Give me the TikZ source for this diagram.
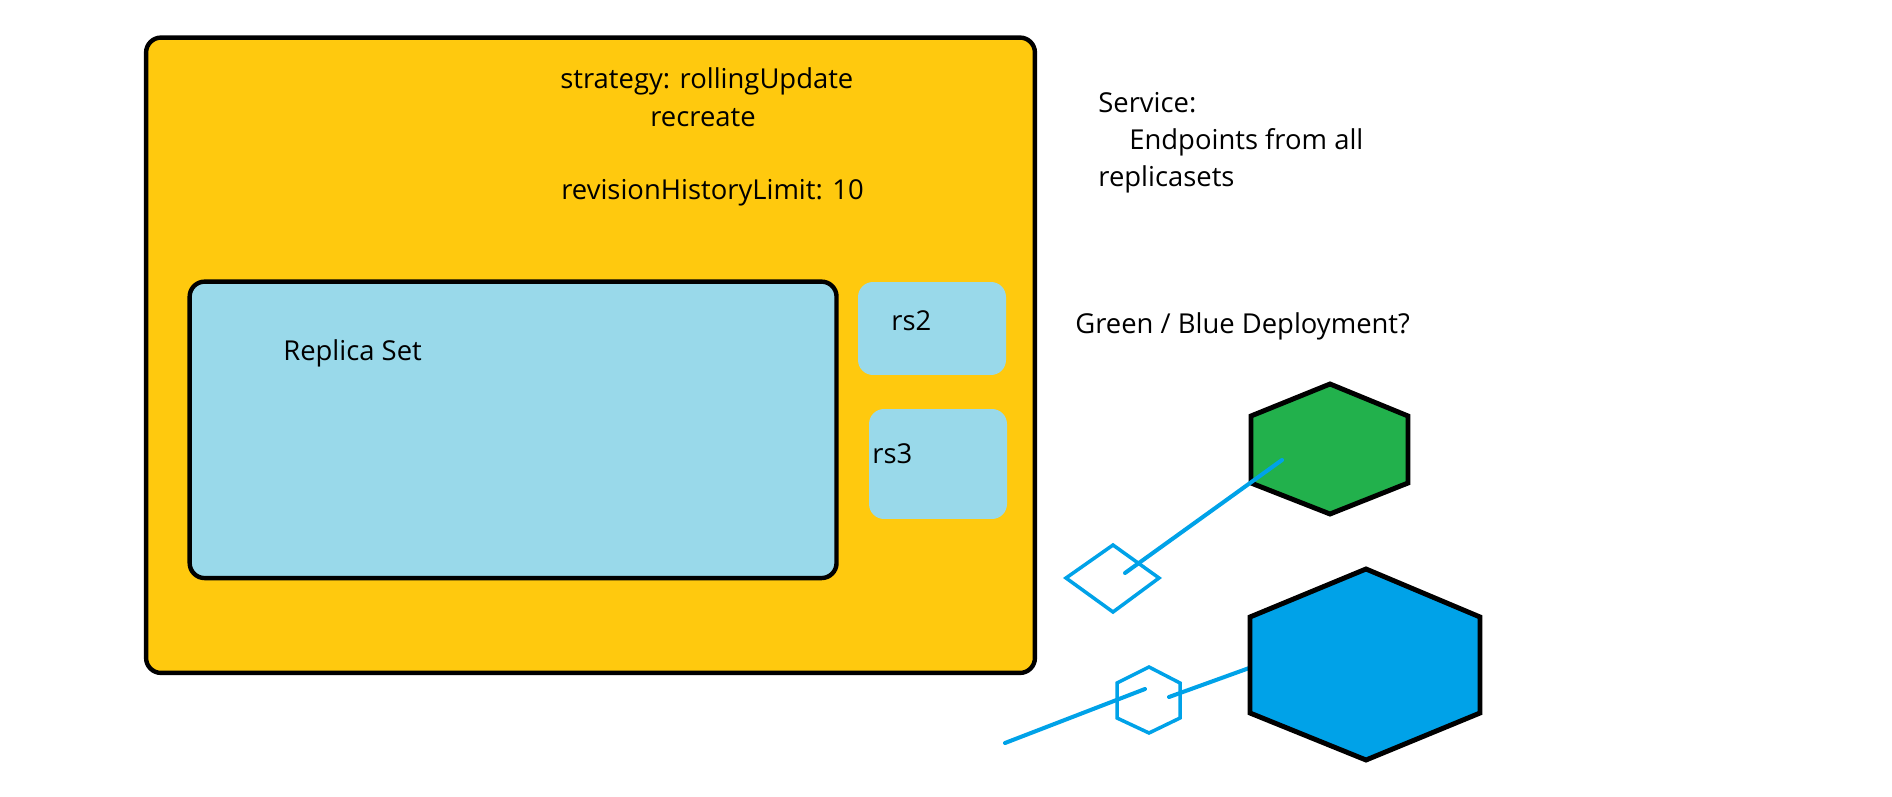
\documentclass[tikz,border=0pt]{standalone}
\usepackage{fontspec}
\setmainfont{Open Sans}
\usetikzlibrary{positioning}
\definecolor{deployyellow}{HTML}{FFC90E}
\definecolor{rsblue}{HTML}{99D9EA}
\definecolor{podgreen}{HTML}{22B14C}
\definecolor{podblue}{HTML}{00A2E8}
\tikzset{
  deploybox/.style={draw=black, line width=2.5pt, rounded corners=0.3cm, fill=deployyellow, inner sep=0pt},
  rsbox/.style={draw=black, line width=2.5pt, rounded corners=0.3cm, fill=rsblue, inner sep=0pt},
  rssmall/.style={rounded corners=0.3cm, fill=rsblue, inner sep=0pt},
  txt/.style={anchor=base west, inner sep=0pt, font=\fontsize{15.6}{19}\selectfont},
  pod/.style={draw=black, line width=2.8pt, line join=miter},
  wire/.style={draw=podblue, line width=2.3pt, line cap=round},
  outline/.style={draw=podblue, line width=2pt, line join=miter}
}

\begin{document}
\begin{tikzpicture}[x=0.02cm, y=-0.02cm]
      \useasboundingbox (0,0) rectangle (1892,797);
      \node[deploybox, minimum width=17.78cm, minimum height=12.71cm] (deploy) at (590.5,355.25) {};
      \node[rsbox, minimum width=12.94cm, minimum height=5.93cm] (rs1) at (513.1,429.85) {};
      \node[rssmall, minimum width=2.96cm, minimum height=1.86cm] (rs2) at (932,328.5) {};
      \node[rssmall, minimum width=2.76cm, minimum height=2.2cm] (rs3) at (938,464) {};
      \node[txt] (strategy) at (560,89) {strategy: rollingUpdate};
      \node[txt] (recreate) at (650,127) {recreate};
      \node[txt] (history) at (561,200) {revisionHistoryLimit: 10};
      \node[txt] (rs1label) at (283,360) {Replica Set};
      \node[txt] (rs2label) at (891,330) {rs2};
      \node[txt] (rs3label) at (872,463) {rs3};
      \node[txt] (service) at (1098,113) {Service:};
      \node[txt] (endpoints) at (1129,150) {Endpoints from all};
      \node[txt] (replicasets) at (1098,187) {replicasets};
      \node[txt] (greenblue) at (1075,333) {Green / Blue Deployment?};
      \coordinate (svcgreen) at (1125,573);
      \coordinate (podgreenin) at (1282,460);
      \coordinate (svcfree) at (1005,743);
      \coordinate (svcblue) at (1145,689);
      \coordinate (svcblueout) at (1169,697);
      \coordinate (podbluein) at (1252,667);
      \draw[outline] (1066,578) -- (1113,545) -- (1159,578) -- (1113,612) -- cycle;
      \draw[pod, fill=podgreen] (1251,416) -- (1330,384) -- (1408,416) -- (1408,483) -- (1330,514) -- (1251,483) -- cycle;
      \draw[wire] (svcgreen) -- (podgreenin);
      \draw[outline] (1117,683) -- (1149,667) -- (1180,683) -- (1180,718) -- (1149,733) -- (1117,718) -- cycle;
      \draw[wire] (svcfree) -- (svcblue);
      \draw[wire] (svcblueout) -- (podbluein);
      \draw[pod, fill=podblue] (1250,617) -- (1366,569) -- (1480,617) -- (1480,713) -- (1366,760) -- (1250,713) -- cycle;
    \end{tikzpicture}
\end{document}
